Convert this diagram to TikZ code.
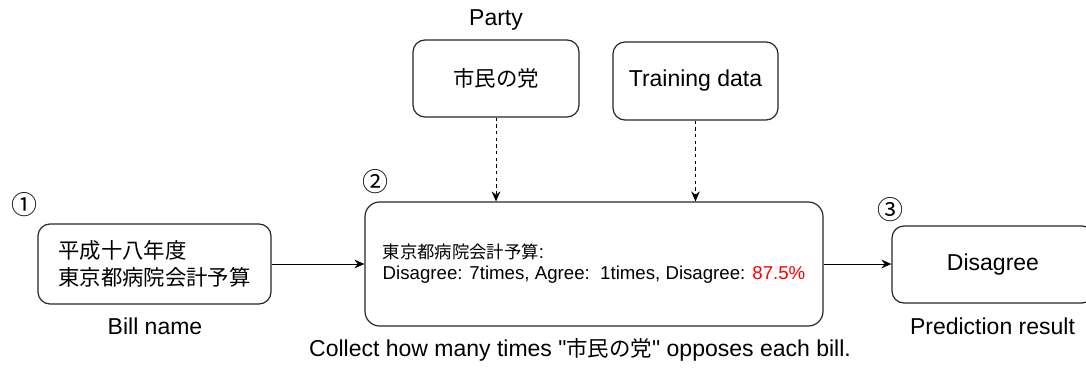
\documentclass[tikz,border=0pt]{standalone}
\usepackage{fontspec}
\setmainfont{Liberation Sans}
\newfontfamily\qf{Liberation Sans}
\newfontfamily\jp{Noto Sans CJK JP}[Scale=0.93]
\newfontfamily\jpn{Noto Sans CJK JP}
\usetikzlibrary{arrows.meta}
\begin{document}
\begin{tikzpicture}[x=0.75pt,y=-0.75pt,
  box/.style={draw=black!85, line width=0.9pt, rounded corners=9pt, inner sep=0pt},
  lbl/.style={font=\fontsize{17.25}{20}\selectfont, inner sep=0pt},
  num/.style={font=\jpn\fontsize{19.5}{22}\selectfont, inner sep=0pt},
  arr/.style={-{Stealth[length=7.5pt,width=6.5pt,inset=2.5pt]}, line width=0.75pt},
  darr/.style={arr, dash pattern=on 2.5pt off 2.5pt}]
\useasboundingbox (0,0) rectangle (1086,368);
\clip (0,0) rectangle (1086,368);

% boxes
\node[box, minimum width=174.75pt, minimum height=60pt, align=left,
      font=\fontsize{17.25}{20.25}\selectfont] (b1) at (154.5,264)
      {{\jp 平成十八年度}\\{\jp 東京都病院会計予算}};
\node[box, minimum width=343.5pt, minimum height=93pt, align=left,
      font=\fontsize{14}{15.75}\selectfont, rounded corners=11pt] (b2) at (594,264)
      {{\jp 東京都病院会計予算}:\\Disagree: 7times, Agree:\ \ 1times, Disagree: \textcolor{red}{87.5\%}};
\node[box, minimum width=124.5pt, minimum height=57.75pt, lbl] (party) at (496,78.5)
      {\jp 市民の党};
\node[box, minimum width=123.75pt, minimum height=58.5pt, lbl] (train) at (695.5,81)
      {Training data};
\node[box, minimum width=151.5pt, minimum height=57.75pt, lbl] (b3) at (993,264.5)
      {Disagree};

% labels
\node[lbl] (lparty) at (496,20) {Party};
\node[lbl] (lbill) at (155,326) {Bill name};
\node[lbl] (lpred) at (992.5,326) {Prediction result};
\node[lbl] (lcollect) at (580,350) {Collect how many times {\qf"}{\jp 市民の党}{\qf"} opposes each bill.};
\node[num] (n1) at (25,205) {①};
\node[num] (n2) at (375,182) {②};
\node[num] (n3) at (890,210) {③};

% connectors
\draw[arr] (b1.east) -- (b2.west);
\draw[arr] (b2.east) -- (b2.east -| b3.west);
\draw[darr] (party.south) -- (party.south |- b2.north);
\draw[darr] (train.south) -- (train.south |- b2.north);
\end{tikzpicture}
\end{document}
